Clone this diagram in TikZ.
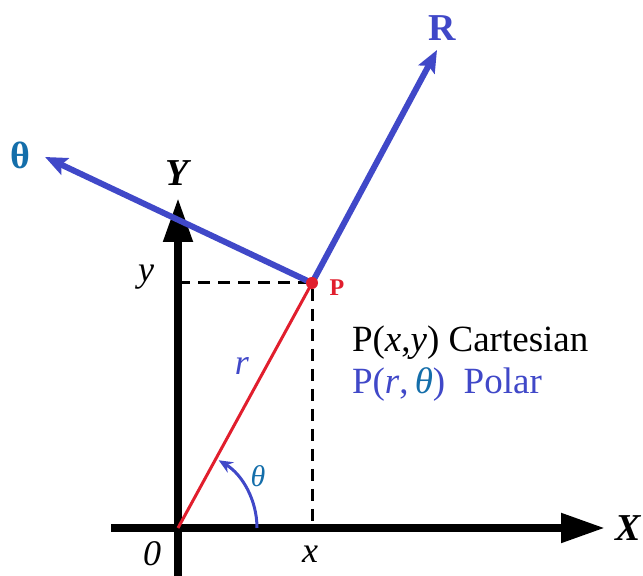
\documentclass[tikz,border=0pt]{standalone}
\usepackage{fontspec}
\setmainfont{Liberation Serif}
\usetikzlibrary{arrows.meta}
\definecolor{vecblue}{RGB}{64,72,200}
\definecolor{tealblue}{RGB}{20,110,170}
\definecolor{ptred}{RGB}{225,30,45}

\begin{document}
\begin{tikzpicture}[x=0.5pt, y=0.5pt,
    axis/.style={line width=4pt, -{Triangle[length=22pt,width=14pt]}},
    vec/.style={line width=3pt, vecblue, -{Stealth[length=11pt,width=9pt,inset=2pt]}},
    guide/.style={line width=1.5pt, dash pattern=on 6pt off 4pt},
    lbl/.style={font=\rmfamily\fontsize{18.5}{22}\selectfont},
    ital/.style={font=\rmfamily\fontsize{18}{22}\selectfont\itshape},
    big/.style={font=\rmfamily\fontsize{19}{22}\selectfont\bfseries},
    bigit/.style={font=\rmfamily\fontsize{19}{22}\selectfont\bfseries\itshape}
]
\useasboundingbox (0,0) rectangle (643,576);
% points
\coordinate (O) at (178,48);
\coordinate (P) at (312,293);
\coordinate (xstart) at (111,48);
\coordinate (ystart) at (178,0);
\coordinate (xtip) at (605,48);
\coordinate (ytip) at (178,378);
\coordinate (Rtip) at (437,526);
\coordinate (Ttip) at (45,419);
\coordinate (Px) at (312,48);
\coordinate (Py) at (178,293);

\draw[axis] (xstart) -- (xtip);
\draw[axis] (ystart) -- (ytip);
\draw[guide] (Py) -- (P) -- (Px);
\draw[vec] (P) -- (Rtip);
\draw[vec] (P) -- (Ttip);
\draw[ptred, line width=1.5pt] (O) -- (P);
\fill[ptred] (P) circle (6);
\draw[vecblue, line width=1.5pt, -{Stealth[length=7pt,width=6pt]}] ([shift={(0:79)}]O) arc[start angle=0, end angle=59, radius=79];

% labels
\node[bigit] (Xlab) at (628,48) {X};
\node[bigit] (Ylab) at (177,403) {Y};
\node[big, vecblue] (Rlab) at (442,548) {R};
\node[big, tealblue] (Tlab) at (20,421) {θ};
\node[font=\rmfamily\fontsize{12}{14}\selectfont\bfseries, ptred] (Plab) at (337,288) {P};
\node[ital] (ylab) at (146,299) {y};
\node[ital] (xlab) at (310,22) {x};
\node[ital] (olab) at (152,22) {0};
\node[ital, vecblue] (rlab) at (242,210) {r};
\node[font=\rmfamily\fontsize{15}{18}\selectfont\itshape, tealblue] (alab) at (258,100) {θ};
\node[lbl, anchor=west] (cart) at (345,233) {P(\textit{x},\textit{y}) Cartesian};
\node[lbl, anchor=west, vecblue] (polar) at (345,191) {P(\textit{r},\,{\color{tealblue}\textit{θ}})\ \ Polar};
\end{tikzpicture}
\end{document}
